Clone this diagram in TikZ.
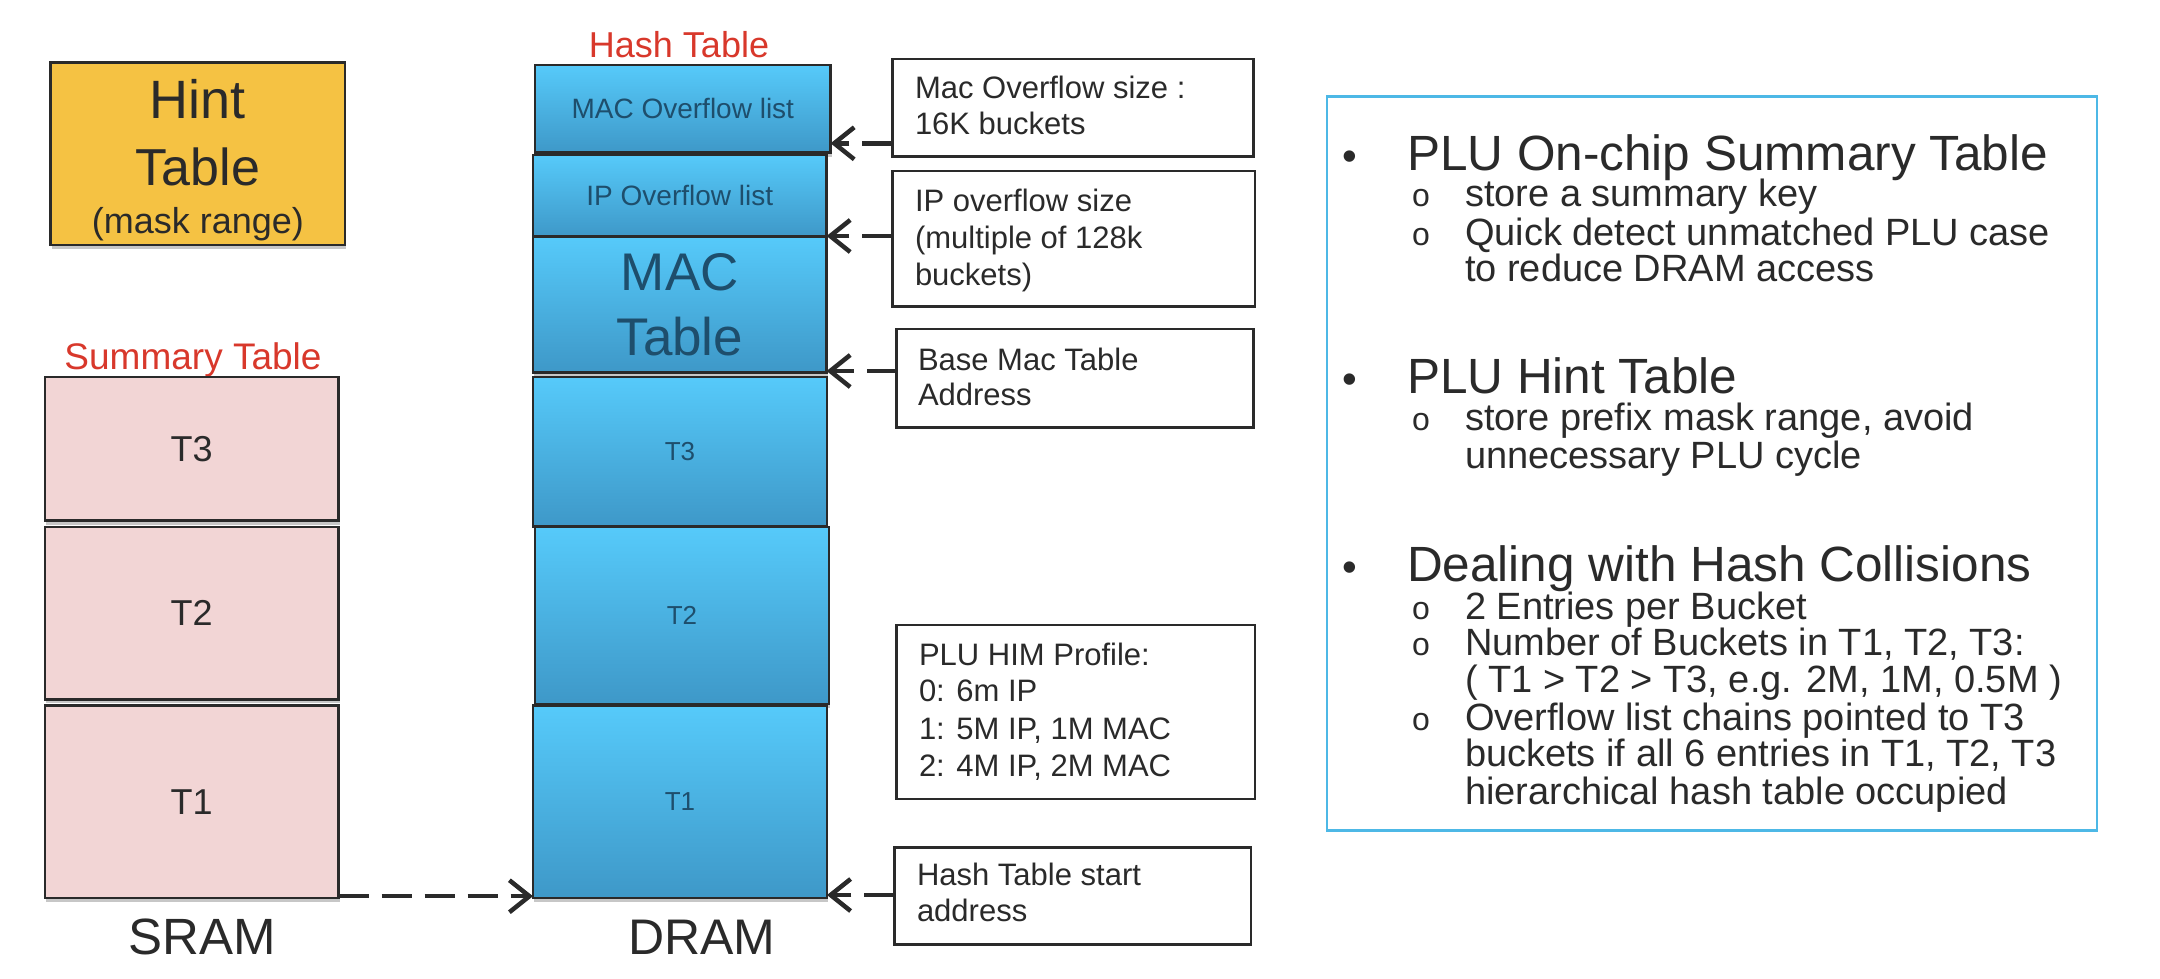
\documentclass[tikz,border=0pt]{standalone}
\usepackage{fontspec}
\setmainfont{Liberation Sans}
\usetikzlibrary{arrows.meta,shadows}
\definecolor{hintfill}{HTML}{F5C243}
\definecolor{sumfill}{HTML}{F2D5D5}
\definecolor{bluetop}{HTML}{56CAFA}
\definecolor{bluebot}{HTML}{3E98C8}
\definecolor{bluetext}{HTML}{1E4E6C}
\definecolor{redlbl}{HTML}{D8382B}
\definecolor{panelblue}{HTML}{4DB8E6}
\definecolor{ink}{HTML}{2A2A2A}
\newcommand{\fsz}[1]{\fontsize{#1}{#1}\selectfont}
\tikzset{
  box/.style={draw=ink, line width=2.5pt, rectangle, inner sep=0pt, outer sep=0pt, anchor=north west},
  shadowed/.style={drop shadow={shadow xshift=1pt, shadow yshift=-4pt, opacity=0.22, fill=black}},
  hintbox/.style={box, fill=hintfill, shadowed},
  sumbox/.style={box, fill=sumfill, shadowed, text=ink, font=\fsz{36}},
  dbox/.style={box, top color=bluetop, bottom color=bluebot, shadowed, text=bluetext, font=\fsz{26}},
  txtbox/.style={box, fill=white},
  line/.style={anchor=base west, inner sep=0pt, outer sep=0pt, text=ink},
  boxline/.style={line, font=\fsz{31}},
  mainline/.style={line, font=\fsz{49.5}},
  subline/.style={line, font=\fsz{38}},
  bul/.style={anchor=base, inner sep=0pt, text=ink, font=\fsz{42}},
  subbul/.style={anchor=base west, inner sep=0pt, text=ink, font=\fsz{32}},
  lbl/.style={anchor=base, inner sep=0pt, outer sep=0pt},
  arr/.style={draw=ink, line width=4.5pt, dash pattern=on 30pt off 13pt,
     -{Straight Barb[length=20pt, width=32pt]}},
}
\begin{document}
\begin{tikzpicture}[x=1pt,y=-1pt]
\useasboundingbox (0,0) rectangle (2160,978);

% ---------- Hint table ----------
\node[hintbox, minimum width=294.3pt, minimum height=182.3pt] (hint) at (50.7,62.7) {};
\node[lbl, font=\fsz{54}, text=ink] (hint1) at (197.9,118.3) {Hint};
\node[lbl, font=\fsz{52}, text=ink] (hint2) at (197.9,185) {Table};
\node[lbl, font=\fsz{36}, text=ink] (hint3) at (197.9,233) {(mask range)};

% ---------- Summary table (SRAM) ----------
\node[lbl, font=\fsz{37}, text=redlbl] (sumlbl) at (193,369) {Summary Table};
\node[sumbox, minimum width=293.9pt, minimum height=143.8pt] (st3) at (44.8,376.9) {T3};
\node[sumbox, minimum width=293.9pt, minimum height=172.3pt] (st2) at (44.8,527.1) {T2};
\node[sumbox, minimum width=293.9pt, minimum height=192.8pt] (st1) at (44.8,705.4) {T1};
\node[lbl, font=\fsz{51}, text=ink] (sram) at (202,954) {SRAM};

% ---------- Hash table (DRAM) ----------
\node[lbl, font=\fsz{36}, text=redlbl] (htlbl) at (679,57.3) {Hash Table};
\node[dbox, font=\fsz{28}, minimum width=295.6pt, minimum height=87.7pt] (macov) at (535,65) {MAC Overflow list};
\node[dbox, font=\fsz{28}, minimum width=293.6pt, minimum height=81.7pt] (ipov) at (533,155) {IP Overflow list};
\node[dbox, font={\fontsize{53}{65}\selectfont}, align=center, minimum width=293.6pt, minimum height=135.6pt] (mact) at (533,236.7) {MAC\\Table};
\node[dbox, minimum width=294pt, minimum height=149.8pt] (dt3) at (533,376.9) {T3};
\node[dbox, minimum width=294pt, minimum height=177.1pt] (dt2) at (535,527.1) {T2};
\node[dbox, minimum width=294pt, minimum height=192.8pt] (dt1) at (533,705.4) {T1};
\node[lbl, font=\fsz{50}, text=ink] (dram) at (701.7,954) {DRAM};

% ---------- annotation boxes ----------
\node[txtbox, minimum width=361pt, minimum height=97.7pt] (macsize) at (892.3,59) {};
\node[boxline] (macsize1) at (915,98) {Mac Overflow size :};
\node[boxline] (macsize2) at (915,134) {16K buckets};

\node[txtbox, minimum width=362.7pt, minimum height=135.7pt] (ipsize) at (892.3,171) {};
\node[boxline] (ipsize1) at (915,211.7) {IP overflow size};
\node[boxline] (ipsize2) at (915,248) {(multiple of 128k};
\node[boxline] (ipsize3) at (915,285) {buckets)};

\node[txtbox, minimum width=356.6pt, minimum height=98.3pt] (basemac) at (896.7,329) {};
\node[boxline] (basemac1) at (918,370) {Base Mac Table};
\node[boxline] (basemac2) at (918,405) {Address};

\node[txtbox, minimum width=358.3pt, minimum height=174pt] (him) at (896.7,625) {};
\node[boxline] (him1) at (919,665) {PLU HIM Profile:};
\node[boxline] (him2) at (919,701.7) {0: 6m IP};
\node[boxline] (him3) at (919,739.3) {1: 5M IP, 1M MAC};
\node[boxline] (him4) at (919,776.7) {2: 4M IP, 2M MAC};

\node[txtbox, minimum width=356.7pt, minimum height=97pt] (hstart) at (894.3,847.3) {};
\node[boxline] (hstart1) at (917,885) {Hash Table start};
\node[boxline] (hstart2) at (917,921.7) {address};

% ---------- connectors ----------
\coordinate (pmacov) at (830.6,143.3);
\coordinate (pipov) at (826.6,236);
\coordinate (pmact) at (826.6,371);
\coordinate (pstart) at (827,895);
\draw[arr] (macsize.west |- pmacov) -- (pmacov);
\draw[arr] (ipsize.west |- pipov) -- (pipov);
\draw[arr] (basemac.west |- pmact) -- (pmact);
\draw[arr] (hstart.west |- pstart) -- (pstart);
\draw[arr] ([yshift=2pt]st1.south east) -- ([yshift=2pt]dt1.south west);

% ---------- right panel ----------
\node[draw=panelblue, line width=2.5pt, rectangle, inner sep=0pt, outer sep=0pt, anchor=north west,
      minimum width=770pt, minimum height=734pt] (panel) at (1327,96.5) {};

\node[bul] (bu1) at (1350,170) {•};
\node[mainline] (m1) at (1407,170) {PLU On-chip Summary Table};
\node[subbul] (sb11) at (1412,206.7) {o};
\node[subline] (s11) at (1465,206.7) {store a summary key};
\node[subbul] (sb12) at (1412,245) {o};
\node[subline] (s12) at (1465,245) {Quick detect unmatched PLU case};
\node[subline] (s13) at (1465,281.7) {to reduce DRAM access};

\node[bul] (bu2) at (1350,393.3) {•};
\node[mainline] (m2) at (1407,393.3) {PLU Hint Table};
\node[subbul] (sb21) at (1412,430) {o};
\node[subline] (s21) at (1465,430) {store prefix mask range, avoid};
\node[subline] (s22) at (1465,468.3) {unnecessary PLU cycle};

\node[bul] (bu3) at (1350,581) {•};
\node[mainline] (m3) at (1407,581) {Dealing with Hash Collisions};
\node[subbul] (sb31) at (1412,619) {o};
\node[subline] (s31) at (1465,619) {2 Entries per Bucket};
\node[subbul] (sb32) at (1412,655) {o};
\node[subline] (s32) at (1465,655) {Number of Buckets in T1, T2, T3:};
\node[subline] (s33) at (1465,692.5) {( T1 > T2 > T3, e.g. 2M, 1M, 0.5M )};
\node[subbul] (sb34) at (1412,730) {o};
\node[subline] (s34) at (1465,730) {Overflow list chains pointed to T3};
\node[subline] (s35) at (1465,766.7) {buckets if all 6 entries in T1, T2, T3};
\node[subline] (s36) at (1465,804) {hierarchical hash table occupied};
\end{tikzpicture}
\end{document}
